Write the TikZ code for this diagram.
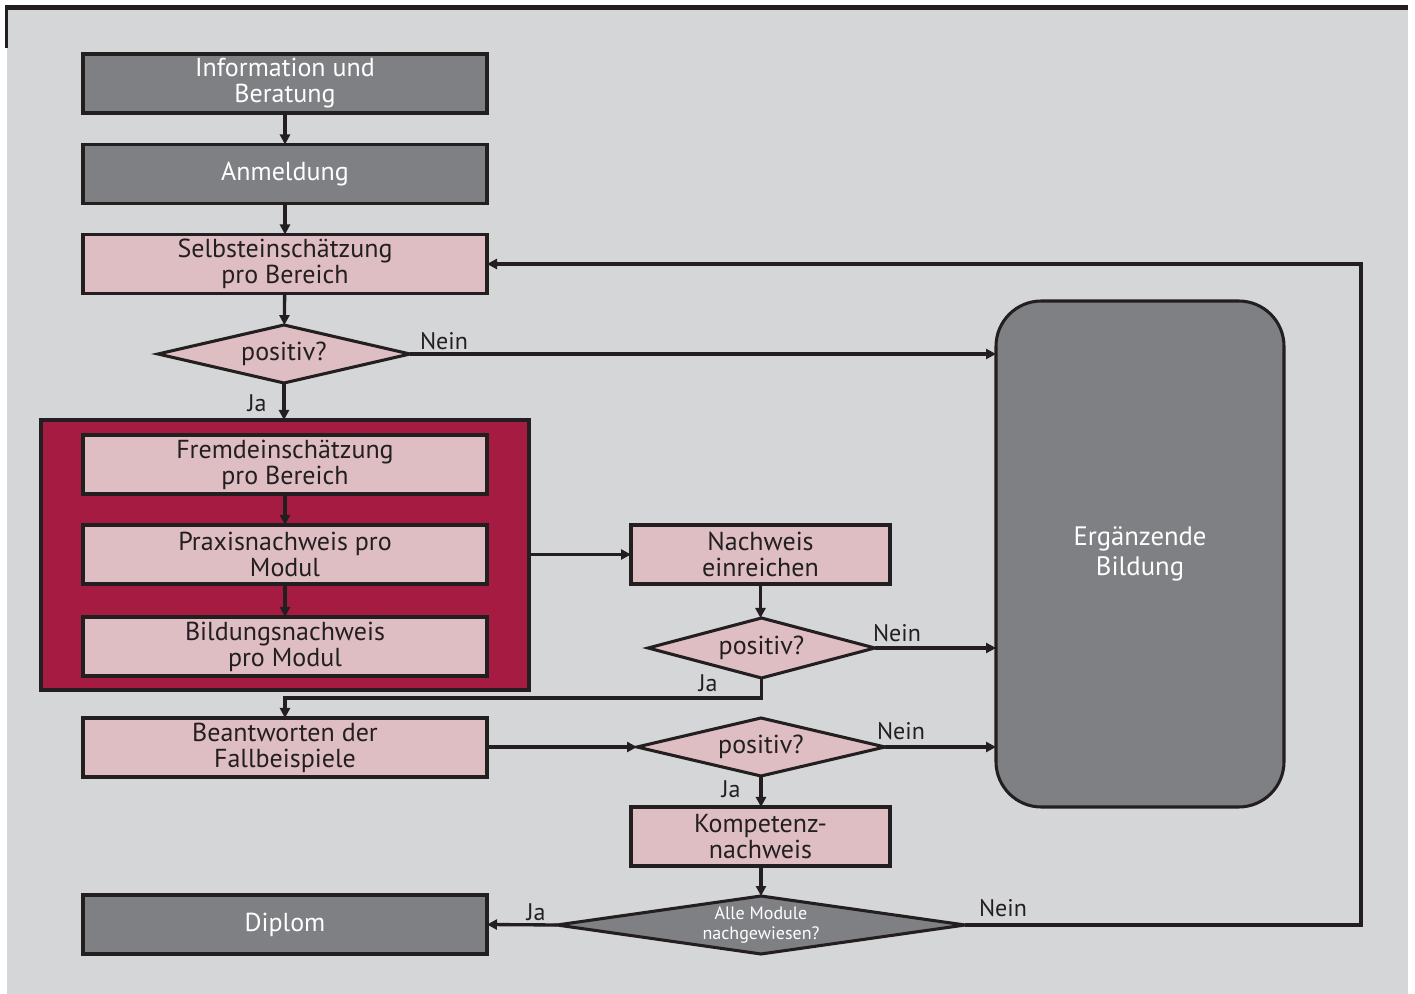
\documentclass[tikz,border=0pt]{standalone}
\usepackage{fontspec}
\setmainfont{PT Sans}
\usetikzlibrary{shapes.geometric,arrows.meta}
\definecolor{bg}{HTML}{D5D6D8}
\definecolor{dgray}{HTML}{7F8084}
\definecolor{pinkbox}{HTML}{DEBEC3}
\definecolor{redbox}{HTML}{A51B41}
\definecolor{ink}{HTML}{231F20}
\tikzset{
  base/.style={draw=ink, line width=2.3pt, inner sep=0pt, outer sep=0pt, align=center,
    font=\fontsize{19.5}{19.5}\selectfont},
  graybox/.style={base, rectangle, fill=dgray, text=white, minimum width=303pt, minimum height=44.25pt},
  pinkwide/.style={base, rectangle, fill=pinkbox, text=ink, minimum width=303pt, minimum height=44.25pt},
  pinknarrow/.style={base, rectangle, fill=pinkbox, text=ink, minimum width=194.25pt, minimum height=44.25pt},
  decision/.style={base, diamond, fill=pinkbox, text=ink, aspect=5},
  lbl/.style={text=ink, inner sep=0pt, font=\fontsize{18}{19}\selectfont},
  conn/.style={draw=ink, line width=2.5pt, -{Triangle[length=7.5pt,width=7.5pt]}},
}
\begin{document}
\begin{tikzpicture}[x=0.75pt,y=-0.75pt]
\useasboundingbox (0,0) rectangle (1415,994);
\fill[bg] (7,10) rectangle (1408,994);
\fill[ink] (5,5) rectangle (1408,10);
\fill[ink] (5,5) rectangle (8,48);

% module block
\node[base, rectangle, fill=redbox, minimum width=366pt, minimum height=202.5pt] (modbox) at (285,555) {};

\node[graybox] (info) at (285,83.5) {Information und\\Beratung};
\node[graybox] (anm) at (285,174) {Anmeldung};
\node[pinkwide] (selbst) at (285,264) {Selbsteinschätzung\\pro Bereich};
\node[decision, minimum width=189pt, minimum height=43.5pt] (d1) at (284,354) {positiv?};
\node[pinkwide] (fremd) at (285,464.5) {Fremdeinschätzung\\pro Bereich};
\node[pinkwide] (praxis) at (285,554.5) {Praxisnachweis pro\\Modul};
\node[pinkwide] (bild) at (285,646.5) {Bildungsnachweis\\pro Modul};
\node[pinknarrow] (nach) at (760.5,554.5) {Nachweis\\einreichen};
\node[decision, minimum width=170pt, minimum height=45pt] (d2) at (761.5,648) {positiv?};
\node[pinkwide] (beant) at (285,747.5) {Beantworten der\\Fallbeispiele};
\node[decision, minimum width=186pt, minimum height=43.5pt] (d3) at (761,747) {positiv?};
\node[pinknarrow] (komp) at (760.5,836.5) {Kompetenz-\\nachweis};
\node[base, diamond, fill=dgray, text=white, aspect=7, minimum width=306pt, minimum height=43.5pt,
  font=\fontsize{13.5}{15}\selectfont] (d4) at (761,925) {Alle Module\\nachgewiesen?};
\node[graybox] (dipl) at (285,924.5) {Diplom};
\node[base, rectangle, rounded corners=34pt, fill=dgray, text=white, minimum width=216pt,
  minimum height=379.5pt, font=\fontsize{20}{22}\selectfont] (erg) at (1140,554) {Ergänzende\\Bildung};

% connectors
\draw[conn] (info) -- (anm);
\draw[conn] (anm) -- (selbst);
\draw[conn] (selbst) -- (d1);
\draw[conn] (d1.east) -- (d1.east -| erg.west);
\draw[conn] (d1.south) -- (modbox.north -| d1.south);
\draw[conn] (fremd) -- (praxis);
\draw[conn] (praxis) -- (bild);
\draw[conn] (modbox.east |- nach.west) -- (nach.west);
\draw[conn] (nach) -- (nach.south |- d2.north);
\draw[conn] (d2.east) -- (d2.east -| erg.west);
\coordinate (jbend) at (761.5,698);
\draw[conn] (d2.south) -- (jbend) -| (beant.north);
\draw[conn] (beant.east |- d3.west) -- (d3.west);
\draw[conn] (d3.east) -- (d3.east -| erg.west);
\draw[conn] (d3.south) -- (komp.north -| d3.south);
\draw[conn] (komp.south -| d4.north) -- (d4.north);
\draw[conn] (d4.west) -- (dipl.east);
\coordinate (loop) at (1361,925);
\draw[conn] (d4.east) -- (loop) |- (selbst.east);

% labels
\node[lbl] (n1) at (444,341) {Nein};
\node[lbl] (j1) at (257,403) {Ja};
\node[lbl] (n2) at (897,633) {Nein};
\node[lbl] (j2) at (708,683) {Ja};
\node[lbl] (n3) at (901,731) {Nein};
\node[lbl] (j3) at (731,789) {Ja};
\node[lbl] (j4) at (536,912) {Ja};
\node[lbl] (n4) at (1003,908) {Nein};
\end{tikzpicture}
\end{document}
